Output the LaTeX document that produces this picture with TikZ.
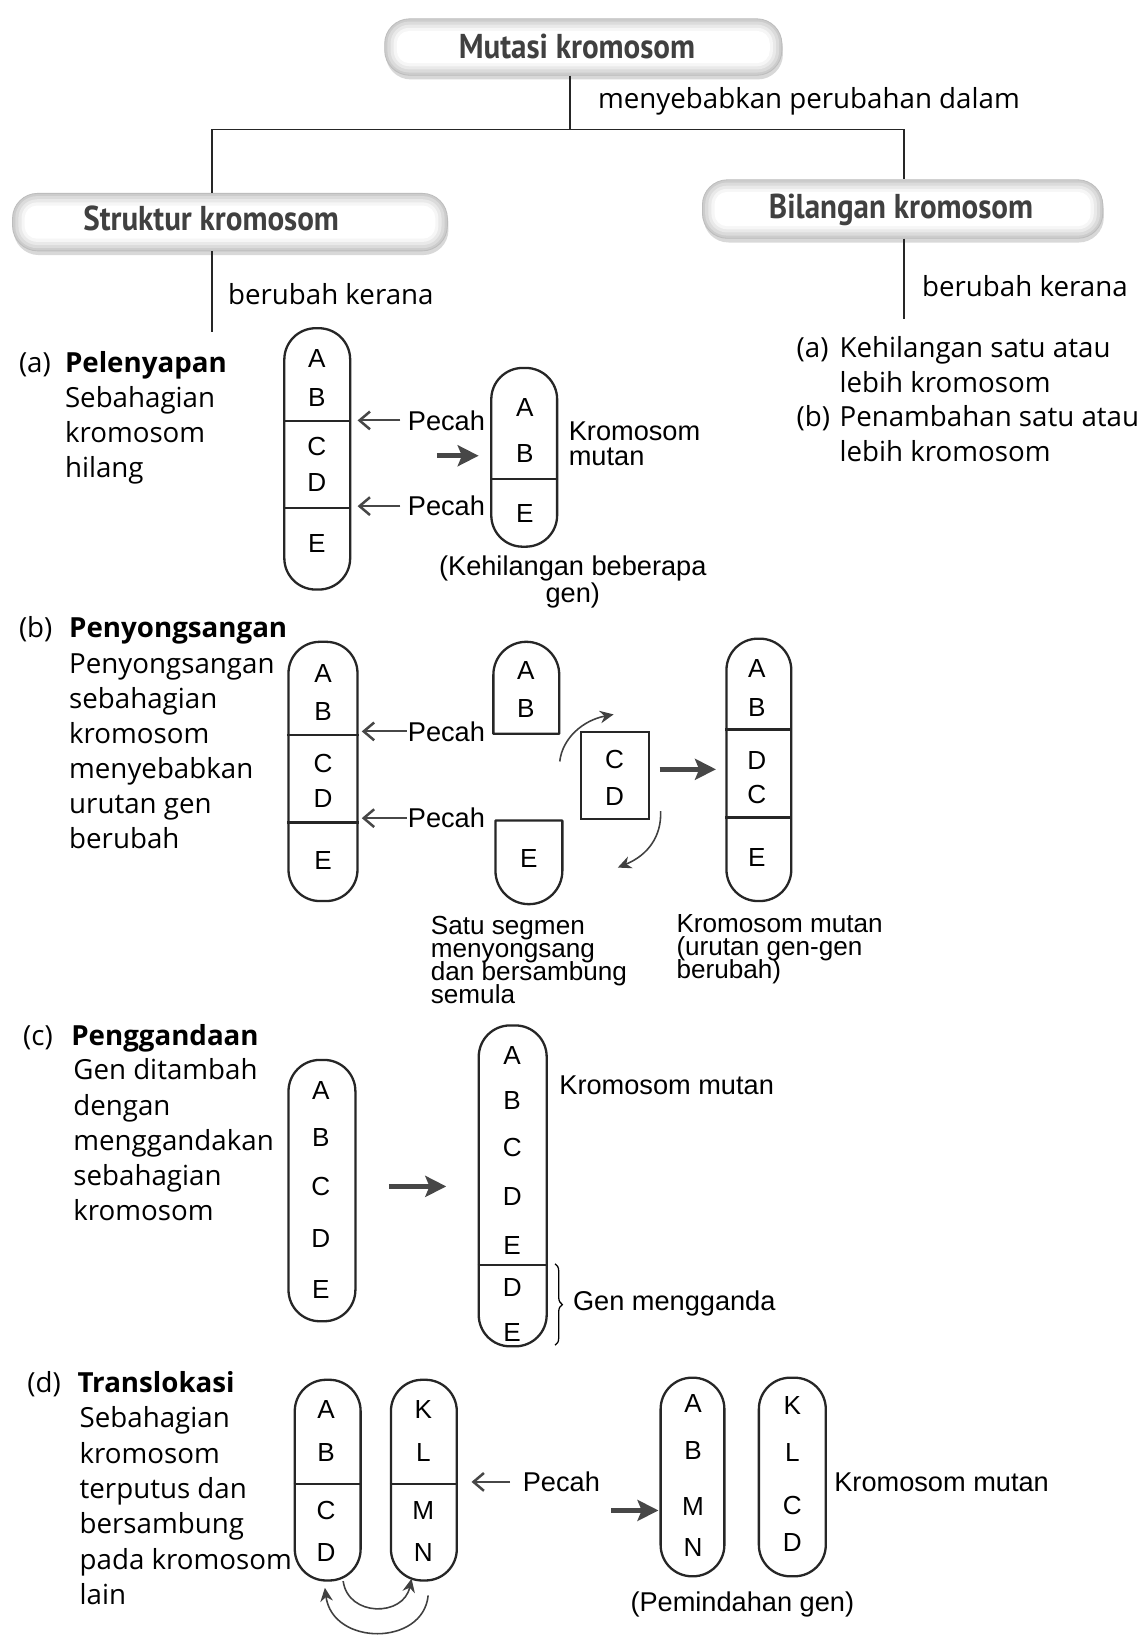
\documentclass[tikz,border=0pt]{standalone}
\usepackage{fontspec}
\setmainfont{Open Sans}
\newfontfamily\arialf{Liberation Sans}
\newfontfamily\headf[FakeStretch=0.9]{PT Sans}
\usetikzlibrary{arrows.meta,shadows,decorations.pathreplacing,calc}
\newcommand\mkhead[6]{%
  \node[hboxs, minimum width=#3pt, minimum height=#4pt] (#1) at (#2) {};
  \fill[gray!28, rounded corners=21pt] ($(#1.north west)+(3,3)$) rectangle ($(#1.south east)+(-3,-3)$);
  \fill[gray!17, rounded corners=18pt] ($(#1.north west)+(6,6)$) rectangle ($(#1.south east)+(-6,-6)$);
  \fill[gray!7, rounded corners=15pt] ($(#1.north west)+(9,9)$) rectangle ($(#1.south east)+(-9,-9)$);
  \fill[white, rounded corners=12pt] ($(#1.north west)+(12,12)$) rectangle ($(#1.south east)+(-12,-12)$);
  \node[head] (#1T) at (#5) {#6};
}
\begin{document}
\begin{tikzpicture}[x=1pt,y=-1pt,
  bodyt/.style={font=\fontsize{26.5}{33.5}\selectfont, inner sep=0pt, anchor=base west},
  bodyb/.style={font=\fontsize{26.5}{33.5}\selectfont\bfseries, inner sep=0pt, anchor=base west},
  lab/.style={font=\arialf\fontsize{26}{26}\selectfont, inner sep=0pt, anchor=base west},
  labs/.style={font=\arialf\fontsize{25}{25}\selectfont, inner sep=0pt, anchor=base west},
  gl/.style={font=\arialf\fontsize{25}{25}\selectfont, inner sep=0pt},
  head/.style={font=\headf\bfseries\fontsize{33}{33}\selectfont, text=black!75, inner sep=0pt},
  hboxs/.style={fill=gray!40, draw=gray!52, line width=0.8pt, rounded corners=24pt, inner sep=0pt,
     drop shadow={opacity=0.3, shadow xshift=1pt, shadow yshift=-4pt}},
  chrom/.style={draw=black!85, line width=2.2pt, rounded corners=30pt, inner sep=0pt},
  cline/.style={draw=black!85, line width=2.2pt, line join=round},
  tline/.style={draw=black!85, line width=1.6pt},
  bigarr/.style={draw=black!72, line width=4.3pt, -{Stealth[length=20pt,width=20pt,inset=4pt]}},
  smarr/.style={draw=black!72, line width=1.9pt, -{Straight Barb[length=10pt,width=17pt,line width=2.4pt]}},
  curarr/.style={draw=black!75, line width=1.5pt, -{Stealth[length=13pt,width=12pt]}}]
\useasboundingbox (0,0) rectangle (1093,1568);
\fill[white] (0,0) rectangle (1093,1568);

% ---------- header tree ----------
\mkhead{mutasi}{558,45}{380}{54}{552,44}{Mutasi kromosom}
\mkhead{struktur}{220,212.5}{416}{55}{202,209}{Struktur kromosom}
\mkhead{bilangan}{863.5,200}{383}{56}{862,201}{Bilangan kromosom}

\coordinate (jt) at (545,124);
\coordinate (jl) at (203,124);
\coordinate (jr) at (865,124);
\coordinate (sl) at (203,318);
\coordinate (br) at (865,305);
\draw[tline] (mutasi.south -| jt) -- (jt);
\draw[tline] (jl |- struktur.north) -- (jl) -- (jr) -- (jr |- bilangan.north);
\draw[tline] (struktur.south -| sl) -- (sl);
\draw[tline] (bilangan.south -| br) -- (br);

\node[bodyt] (menyeb) at (572,104) {menyebabkan perubahan dalam};
\node[bodyt] (berL) at (218,291) {berubah kerana};
\node[bodyt] (berR) at (882,284) {berubah kerana};

% right list
\node[bodyt] (ra) at (762,342) {(a)};
\node[bodyt] (ra1) at (803,342) {Kehilangan satu atau};
\node[bodyt] (ra2) at (803,375.5) {lebih kromosom};
\node[bodyt] (rb) at (762,408) {(b)};
\node[bodyt] (rb1) at (803,408) {Penambahan satu atau};
\node[bodyt] (rb2) at (803,441.5) {lebih kromosom};

% ---------- left texts ----------
\node[bodyt] (aLab) at (18,356) {(a)};
\node[bodyb] (aTit) at (62,356) {Pelenyapan};
\foreach \t [count=\i] in {Sebahagian,kromosom,hilang}
  \node[bodyt] (aL\i) at (62,{389.5+33.5*(\i-1)}) {\t};

\node[bodyt] (bLab) at (18,610) {(b)};
\node[bodyb] (bTit) at (66,610) {Penyongsangan};
\foreach \t [count=\i] in {Penyongsangan,sebahagian,kromosom,menyebabkan,urutan gen,berubah}
  \node[bodyt] (bL\i) at (66,{644+33.5*(\i-1)}) {\t};

\node[bodyt] (cLab) at (22,1000) {(c)};
\node[bodyb] (cTit) at (68,1000) {Penggandaan};
\foreach \t [count=\i] in {Gen ditambah,dengan,menggandakan,sebahagian,kromosom}
  \node[bodyt] (cL\i) at (70,{1033+33.7*(\i-1)}) {\t};

\node[bodyt] (dLab) at (26,1332) {(d)};
\node[bodyb] (dTit) at (74,1332) {Translokasi};
\foreach \t [count=\i] in {Sebahagian,kromosom,terputus dan,bersambung,pada kromosom,lain}
  \node[bodyt] (dL\i) at (76,{1366+33.8*(\i-1)}) {\t};

% ---------- (a) Pelenyapan ----------
\node[chrom, minimum width=63pt, minimum height=250pt] (a1) at (303.5,439) {};
\draw[cline] (a1.west |- 0,403) -- (a1.east |- 0,403);
\draw[cline] (a1.west |- 0,486) -- (a1.east |- 0,486);
\foreach \l/\y [count=\i] in {A/343,B/380,C/427,D/462,E/520}
  \node[gl] (a1g\i) at (303,\y) {\l};
\node[chrom, minimum width=63pt, minimum height=171pt] (a2) at (501.5,437.5) {};
\draw[cline] (a2.west |- 0,458) -- (a2.east |- 0,458);
\foreach \l/\y [count=\i] in {A/390,B/434,E/491}
  \node[gl] (a2g\i) at (502,\y) {\l};
\node[lab] (pa1) at (390,411.5) {Pecah};
\node[lab] (pa2) at (390,493.5) {Pecah};
\draw[smarr, shorten <=7pt, shorten >=6pt] (pa1.west) -- (a1.east |- pa1.west);
\draw[smarr, shorten <=7pt, shorten >=6pt] (pa2.west) -- (a1.east |- pa2.west);
\coordinate (ba1) at (418,436);
\draw[bigarr, shorten >=11pt] (ba1) -- (a2.west |- ba1);
\node[lab] (km1) at (544,421.5) {Kromosom};
\node[lab] (km2) at (544,445) {mutan};
\node[lab, anchor=base] (keh1) at (548,551) {(Kehilangan beberapa};
\node[lab, anchor=base] (keh2) at (548,576) {gen)};

% ---------- (b) Penyongsangan ----------
\node[chrom, minimum width=66pt, minimum height=248pt] (b1) at (309,738) {};
\draw[cline] (b1.west |- 0,703) -- (b1.east |- 0,703);
\draw[cline] (b1.west |- 0,787) -- (b1.east |- 0,787);
\foreach \l/\y [count=\i] in {A/644,B/681,C/730,D/764,E/823}
  \node[gl] (b1g\i) at (309,\y) {\l};
\node[lab] (pb1) at (390,709) {Pecah};
\node[lab] (pb2) at (390,792) {Pecah};
\draw[smarr, shorten <=1pt, shorten >=3pt] (pb1.west) -- (b1.east |- pb1.west);
\draw[smarr, shorten <=1pt, shorten >=3pt] (pb2.west) -- (b1.east |- pb2.west);
% broken pieces
\draw[cline] (472,702) -- (472,645.5) arc[start angle=180, end angle=360, radius=31.5] -- (535,702) -- cycle;
\node[gl] (abA) at (503,641) {A};
\node[gl] (abB) at (503,678) {B};
\draw[cline] (474,785) -- (538,785) -- (538,833) arc[start angle=0, end angle=180, radius=32] -- cycle;
\node[gl] (peE) at (506,821) {E};
\node[draw=black!85, line width=2.2pt, minimum width=65pt, minimum height=83pt, inner sep=0pt] (cd) at (588.5,742) {};
\node[gl] (cdC) at (588,727) {C};
\node[gl] (cdD) at (588,762) {D};
\coordinate (cu1) at (535.5,728.5);
\coordinate (cu2) at (587,683.5);
\draw[curarr] (cu1) .. controls (538,706) and (558,689) .. (cu2);
\coordinate (cv1) at (632,776);
\coordinate (cv2) at (591,830);
\draw[curarr] (cv1) .. controls (633,800) and (620,818) .. (cv2);
\node[chrom, minimum width=62pt, minimum height=251pt] (b3) at (726,736.5) {};
\draw[cline] (b3.west |- 0,698) -- (b3.east |- 0,698);
\draw[cline] (b3.west |- 0,782) -- (b3.east |- 0,782);
\foreach \l/\y [count=\i] in {A/640,B/677,D/728,C/760,E/820}
  \node[gl] (b3g\i) at (724,\y) {\l};
\coordinate (bb1) at (631,736);
\draw[bigarr, shorten >=9pt] (bb1) -- (b3.west |- bb1);
\node[labs] (sat1) at (412,894) {Satu segmen};
\node[labs] (sat2) at (412,916) {menyongsang};
\node[labs] (sat3) at (412,938) {dan bersambung};
\node[labs] (sat4) at (412,960) {semula};
\node[labs] (kmb1) at (647,892) {Kromosom mutan};
\node[labs] (kmb2) at (647,914) {(urutan gen-gen};
\node[labs] (kmb3) at (647,936) {berubah)};

% ---------- (c) Penggandaan ----------
\node[chrom, minimum width=64pt, minimum height=250pt] (c1) at (308,1139) {};
\foreach \l/\y [count=\i] in {A/1043,B/1088,C/1135,D/1185,E/1234}
  \node[gl] (c1g\i) at (307,\y) {\l};
\node[chrom, minimum width=65pt, minimum height=307pt] (c2) at (490.5,1134.5) {};
\draw[cline] (c2.west |- 0,1210) -- (c2.east |- 0,1210);
\foreach \l/\y [count=\i] in {A/1010,B/1053,C/1098,D/1145,E/1192,D/1232,E/1275}
  \node[gl] (c2g\i) at (490,\y) {\l};
\coordinate (bc1) at (372,1135);
\draw[bigarr, shorten >=30pt] (bc1) -- (c2.west |- bc1);
\node[lab] (kmc) at (535,1047) {Kromosom mutan};
\draw[decorate, decoration={brace, amplitude=7pt}, line width=1.2pt] (531,1209) -- (531,1287);
\node[lab] (genm) at (548,1254) {Gen mengganda};

% ---------- (d) Translokasi ----------
\node[chrom, minimum width=63pt, minimum height=192pt] (d1) at (313.5,1416) {};
\draw[cline] (d1.west |- 0,1420) -- (d1.east |- 0,1420);
\foreach \l/\y [count=\i] in {A/1348,B/1390,C/1445,D/1485}
  \node[gl] (d1g\i) at (312,\y) {\l};
\node[chrom, minimum width=63pt, minimum height=192pt] (d2) at (405.5,1416) {};
\draw[cline] (d2.west |- 0,1420) -- (d2.east |- 0,1420);
\foreach \l/\y [count=\i] in {K/1348,L/1390,M/1445,N/1485}
  \node[gl] (d2g\i) at (405,\y) {\l};
\node[lab] (pd) at (500,1427) {Pecah};
\draw[smarr, shorten <=12pt, shorten >=13pt] (pd.west) -- (d2.east |- pd.west);
\coordinate (ta1) at (328.3,1512.6);
\coordinate (ta2) at (393.7,1510.3);
\draw[curarr] (ta1) .. controls (333,1547) and (386,1547) .. (ta2);
\coordinate (tb1) at (409.6,1526.3);
\coordinate (tb2) at (310.8,1519);
\draw[curarr] (tb1) .. controls (405,1575) and (318,1575) .. (tb2);
\node[chrom, minimum width=61pt, minimum height=190pt] (d3) at (662.5,1413) {};
\foreach \l/\y [count=\i] in {A/1343,B/1388,M/1441,N/1480}
  \node[gl] (d3g\i) at (663,\y) {\l};
\node[chrom, minimum width=64pt, minimum height=190pt] (d4) at (758,1413) {};
\foreach \l/\y [count=\i] in {K/1345,L/1390,C/1440,D/1476}
  \node[gl] (d4g\i) at (758,\y) {\l};
\coordinate (bd1) at (585,1445);
\draw[bigarr, shorten >=1pt] (bd1) -- (d3.west |- bd1);
\node[lab] (kmd) at (798,1427) {Kromosom mutan};
\node[lab] (pem) at (603,1542) {(Pemindahan gen)};
\end{tikzpicture}
\end{document}
